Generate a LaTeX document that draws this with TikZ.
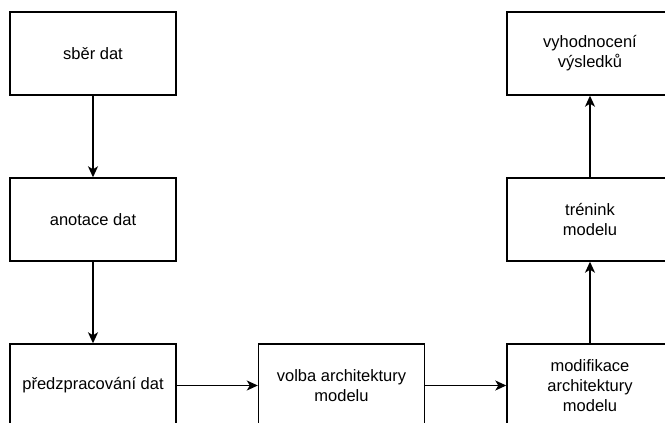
\documentclass[tikz,border=0pt]{standalone}
\usepackage{fontspec}
\setmainfont{Liberation Sans}
\usetikzlibrary{arrows.meta}
\tikzset{
  stepbox/.style={draw=black, line width=1.4pt, fill=white, minimum width=166pt,
    minimum height=83pt, inner sep=0pt, align=center,
    font=\fontsize{16.5}{20}\selectfont},
  flow/.style={line width=1.4pt, -{Stealth[length=11pt,width=10pt,inset=3pt]}}
}
\begin{document}
\begin{tikzpicture}[x=1pt,y=-1pt]
  \useasboundingbox (0,0) rectangle (665,423);
  \clip (0,0) rectangle (665,423);
  \fill[white] (0,0) rectangle (665,423);
  % pipeline steps
  \node[stepbox] (sber) at (93,53.5) {sběr dat};
  \node[stepbox] (anot) at (93,219.5) {anotace dat};
  \node[stepbox] (pred) at (93,385.5) {předzpracování dat};
  \node[stepbox] (volba) at (341.5,385.5) {volba architektury\\modelu};
  \node[stepbox] (modif) at (590,385.5) {modifikace\\architektury\\modelu};
  \node[stepbox] (tren) at (590,219.5) {trénink\\modelu};
  \node[stepbox] (vyhod) at (590,53.5) {vyhodnocení\\výsledků};
  % connectors
  \draw[flow] (sber) -- (anot);
  \draw[flow] (anot) -- (pred);
  \draw[flow] (pred) -- (volba);
  \draw[flow] (volba) -- (modif);
  \draw[flow] (modif) -- (tren);
  \draw[flow] (tren) -- (vyhod);
\end{tikzpicture}
\end{document}
